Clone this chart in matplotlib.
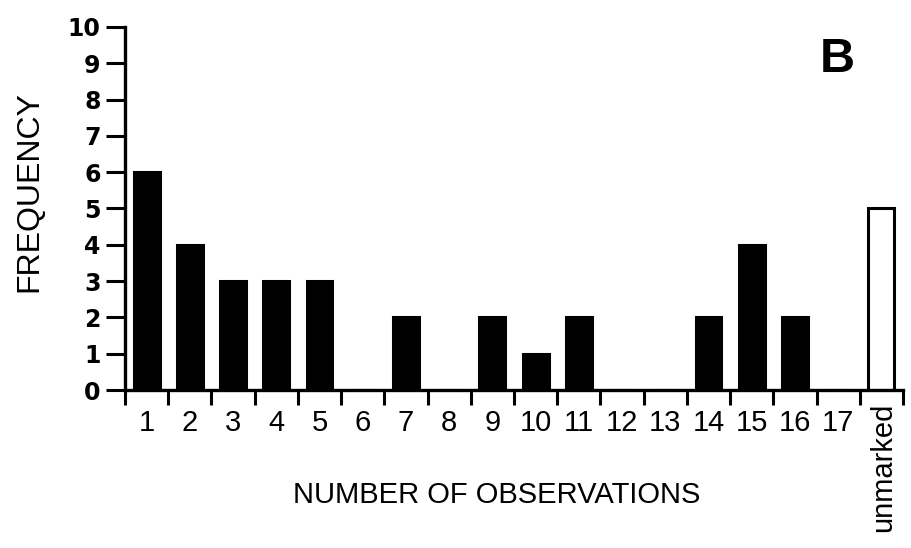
import matplotlib
matplotlib.use("Agg")
import matplotlib.pyplot as plt
from matplotlib.transforms import ScaledTranslation
import numpy as np

plt.rcParams['font.family'] = ['Liberation Sans', 'DejaVu Sans']

categories = [str(i) for i in range(1, 18)] + ["unmarked"]
frequency = [6, 4, 3, 3, 3, 0, 2, 0, 2, 1, 2, 0, 0, 2, 4, 2, 0, 5]
fill_colors = ["black"] * 17 + ["white"]
y_ticks = list(range(0, 11))

fig = plt.figure(figsize=(9.12, 5.48), dpi=100)
ax = fig.add_axes([125 / 912, 1 - 390 / 548, (903 - 125) / 912, (390 - 27) / 548])

pos = np.arange(1, len(categories) + 1)
ax.bar(pos, frequency, width=0.6, color=fill_colors, edgecolor="black",
       linewidth=2.2, zorder=2)

ax.set_xlim(0.5, len(categories) + 0.5)
ax.set_ylim(0, 10)

for side in ("top", "right"):
    ax.spines[side].set_visible(False)
for side in ("left", "bottom"):
    ax.spines[side].set_linewidth(2.4)

# y axis: outward ticks with heavy labels
ax.set_yticks(y_ticks)
ax.set_yticklabels([str(v) for v in y_ticks], fontsize=17, fontweight="bold",
                   family="DejaVu Sans")
ax.tick_params(axis="y", direction="out", length=14, width=2.2, pad=3.5)

# x axis: tick marks between categories, labels at category centres
ax.set_xticks(np.arange(0.5, len(categories) + 1, 1.0))
ax.set_xticklabels([])
ax.tick_params(axis="x", which="major", direction="out", length=11, width=2.2)
ax.set_xticks(pos, minor=True)
ax.set_xticklabels(categories, minor=True, fontsize=21)
ax.tick_params(axis="x", which="minor", length=0, pad=14)
for lbl in ax.get_xticklabels(minor=True):
    if lbl.get_text() == "unmarked":
        lbl.set_rotation(90)
        lbl.set_va("top")
        lbl.set_transform(lbl.get_transform()
                          + ScaledTranslation(0.02, 0.07, fig.dpi_scale_trans))

ax.set_ylabel("FREQUENCY", fontsize=23)
ax.yaxis.label.set_va("center")
ax.yaxis.set_label_coords(-(125 - 29) / (903 - 125), (390 - 192) / (390 - 27))

ax.set_xlabel("NUMBER OF OBSERVATIONS", fontsize=21)
ax.xaxis.label.set_va("center")
ax.xaxis.set_label_coords((497 - 125) / (903 - 125), -(495 - 390) / (390 - 27))

fig.text(837 / 912, 1 - 59 / 548, "B", fontsize=35, fontweight="bold",
         ha="center", va="center")

fig.savefig("out.png", dpi=100)
